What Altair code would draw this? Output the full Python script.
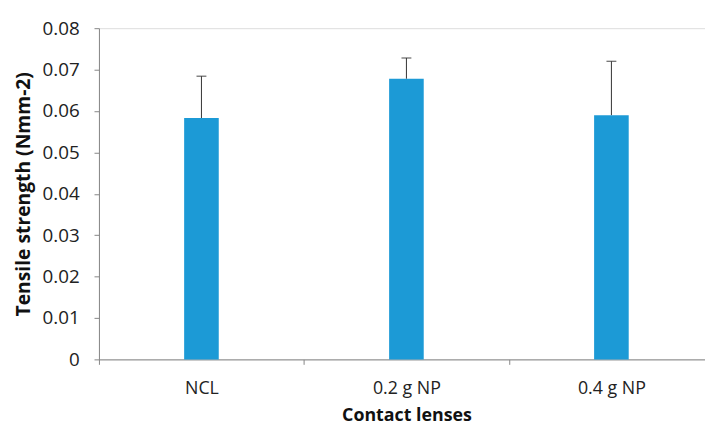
import altair as alt
import pandas as pd

categories = ["NCL", "0.2 g NP", "0.4 g NP"]
means = [0.0583, 0.0678, 0.0590]
upper = [0.0684, 0.0728, 0.0720]

df = pd.DataFrame({"cat": categories, "mean": means, "upper": upper})

FONT = "Open Sans"
AXIS_GRAY = "#868686"

x_enc = alt.X(
    "cat:N",
    sort=categories,
    title="Contact lenses",
    scale=alt.Scale(range=[0, 622], paddingInner=0, paddingOuter=0),
    axis=alt.Axis(
        labelAngle=0,
        tickBand="extent",
        domainColor=AXIS_GRAY,
        tickColor=AXIS_GRAY,
        tickSize=5,
        labelPadding=16,
        titlePadding=9,
        labelFont=FONT,
        labelFontSize=18,
        labelColor="#222222",
        titleFont=FONT,
        titleFontSize=18,
        titleFontWeight="bold",
        titleColor="#111111",
    ),
)

y_scale = alt.Scale(domain=[0, 0.08], nice=False)
y_axis = alt.Axis(
    values=[0, 0.01, 0.02, 0.03, 0.04, 0.05, 0.06, 0.07, 0.08],
    labelExpr="datum.value == 0 ? '0' : format(datum.value, '.2f')",
    grid=False,
    domainColor=AXIS_GRAY,
    tickColor=AXIS_GRAY,
    tickSize=5,
    labelPadding=15,
    titlePadding=9,
    labelFont=FONT,
    labelFontSize=19,
    labelColor="#222222",
    titleFont=FONT,
    titleFontSize=19.5,
    titleFontWeight="bold",
    titleColor="#111111",
)

bars = alt.Chart(df).mark_bar(size=35, color="#1c9ad6").encode(
    x=x_enc,
    y=alt.Y("mean:Q", scale=y_scale, axis=y_axis, title="Tensile strength (Nmm-2)"),
)

rules = alt.Chart(df).mark_rule(color="#333333", strokeWidth=1).encode(
    x=alt.X("cat:N", sort=categories),
    y=alt.Y("mean:Q"),
    y2="upper:Q",
)

caps = alt.Chart(df).mark_tick(color="#333333", thickness=1.3, size=10, orient="horizontal").encode(
    x=alt.X("cat:N", sort=categories),
    y=alt.Y("upper:Q"),
)

chart = (
    alt.layer(bars, rules, caps)
    .properties(
        width=613,
        height=335,
        autosize=alt.AutoSizeParams(type="none"),
        padding={"left": 92, "top": 18, "right": 0, "bottom": 69},
    )
    .configure_view(stroke=None)
    .configure(background="white")
)

chart.save("out.html", embed_options={"renderer": "svg", "actions": False})
